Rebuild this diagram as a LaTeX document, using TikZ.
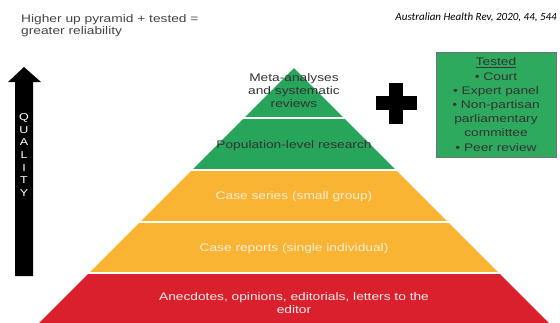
\documentclass[tikz,border=0pt]{standalone}
\usepackage{fontspec}
\setmainfont[FakeStretch=1.25]{Liberation Sans}
\newfontfamily\citefont{Carlito}
\usetikzlibrary{positioning}
\definecolor{pyr-green}{HTML}{27A55B}
\definecolor{pyr-yellow}{HTML}{F9B434}
\definecolor{pyr-red}{HTML}{DA202C}
\definecolor{box-green}{HTML}{2EAA5E}
\definecolor{txt-dark}{HTML}{333333}
\definecolor{txt-light}{HTML}{FCEFD6}
\definecolor{txt-white}{HTML}{FDEDEE}
\definecolor{title-gray}{HTML}{444444}
\tikzset{
  tier/.style={align=center, inner sep=0pt, font=\fontsize{11}{13}\selectfont},
  tested-box/.style={draw=black!55, fill=box-green, align=center, inner sep=0pt,
    minimum width=120, minimum height=105, text=txt-dark,
    font=\fontsize{11}{14.2}\selectfont},
}

\begin{document}
\begin{tikzpicture}[x=1pt, y=-1pt]
  \clip (0,0) rectangle (560,322);
  \pgfmathsetmacro{\apex}{294}
  \pgfmathsetmacro{\peak}{68}

  % pyramid tiers: half width grows one unit per unit of drop
  \foreach \t/\b/\col/\ly/\tcol/\name/\txt in {
      68/118/pyr-green/91/txt-dark/meta/{Meta-analyses\\and systematic\\reviews},
      118/170/pyr-green/146/txt-dark/pop/{Population-level research},
      170/222/pyr-yellow/197/txt-light/series/{Case series (small group)},
      222/273/pyr-yellow/249/txt-light/reports/{Case reports (single individual)},
      273/330/pyr-red/303/txt-white/anec/{Anecdotes, opinions, editorials, letters to the\\editor}} {
    \fill[\col] (\apex-\t+\peak, \t) -- (\apex+\t-\peak, \t)
      -- (\apex+\b-\peak, \b) -- (\apex-\b+\peak, \b) -- cycle;
    \node[tier, text=\tcol] (pyr-\name) at (\apex, \ly) {\txt};
  }
  % white gaps between tiers
  \foreach \y in {118,170,222,273}
    \draw[white, line width=1.6pt] (\apex-\y+\peak-3, \y) -- (\apex+\y-\peak+3, \y);

  % quality arrow
  \fill[black] (15,276) -- (15,82) -- (8,82) -- (24,67) -- (41,82) -- (33,82) -- (33,276) -- cycle;
  \node[text=white, align=center, inner sep=0pt, font=\fontsize{10}{12.7}\selectfont]
    (quality) at (24,155) {Q\\U\\A\\L\\I\\T\\Y};

  % plus sign
  \fill[black] (389,83) rectangle (403,124);
  \fill[black] (376,96) rectangle (417,110);

  % tested box
  \node[tested-box] (tested) at (496,104.5)
    {\underline{Tested}\\\textbullet{} Court\\\textbullet{} Expert panel\\\textbullet{} Non-partisan\\parliamentary\\committee\\\textbullet{} Peer review};

  % headings
  \node[anchor=north west, align=left, inner sep=0pt, text=title-gray,
    font=\fontsize{11}{12.5}\selectfont] (title) at (21,14)
    {Higher up pyramid + tested =\\greater reliability};
  \node[anchor=base east, inner sep=0pt, font=\citefont\itshape\fontsize{11}{13}\selectfont]
    (cite) at (557,20.5) {Australian Health Rev, 2020, 44, 544};
\end{tikzpicture}
\end{document}
